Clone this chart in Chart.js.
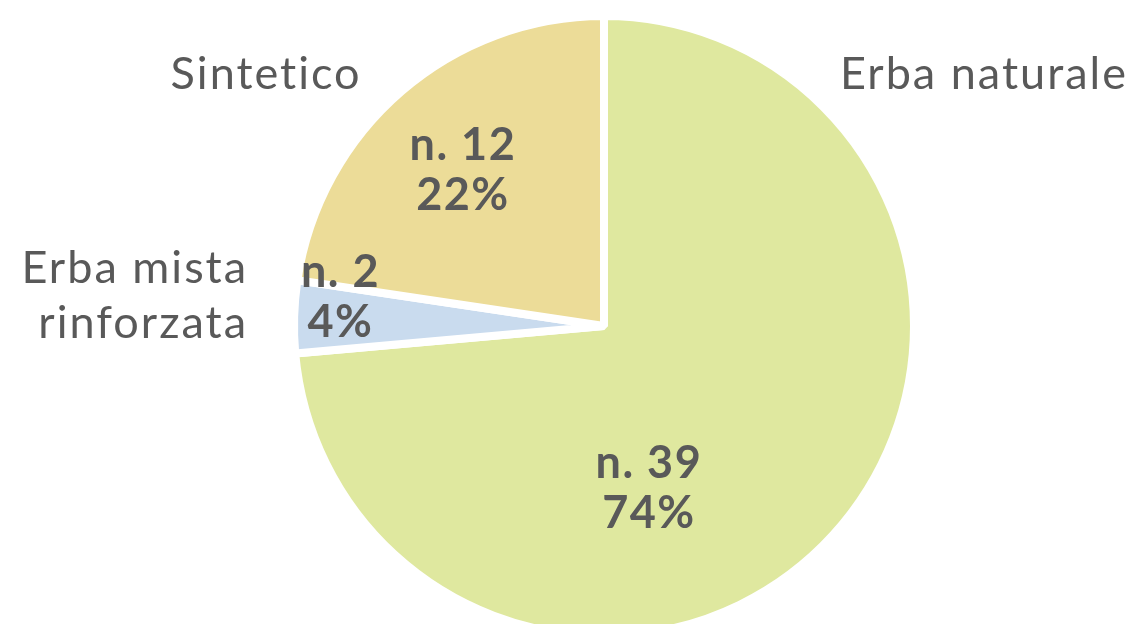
<!DOCTYPE html>
<html>
<head>
<meta charset="utf-8">
<script src="https://cdn.jsdelivr.net/npm/chart.js@4.4.1/dist/chart.umd.min.js"></script>
<style>
  html, body { margin: 0; padding: 0; background: #fff; overflow: hidden; }
  #wrap { width: 1135px; height: 624px; position: relative; }
</style>
</head>
<body>
<div id="wrap"><canvas id="pie"></canvas></div>
<script>
// dati
const categories = ['Erba naturale', 'Erba mista\nrinforzata', 'Sintetico'];
const counts = [39, 2, 12];
const percents = ['74%', '4%', '22%'];
const colors = ['#dfe89f', '#c9dbee', '#ecdc98'];

const TEXT = '#595959';
const FONT = 'Lato, "Open Sans", sans-serif';

// posizione etichette, in frazioni di raggio rispetto al centro
const labelPos = {
  inner: [[0.145, 0.523], [-0.85, -0.093], [-0.455, -0.503]],
  outer: [[1.69, -0.81, 'right'], [-1.148, -0.098, 'right'], [-1.09, -0.81, 'center']]
};

const labelsPlugin = {
  id: 'pieLabels',
  afterDatasetsDraw(chart) {
    const ctx = chart.ctx;
    const arcs = chart.getDatasetMeta(0).data;
    ctx.save();
    ctx.fillStyle = TEXT;
    ctx.textBaseline = 'middle';
    arcs.forEach((arc, i) => {
      const r = arc.outerRadius;
      // interno: numero e percentuale
      let p = labelPos.inner[i];
      ctx.font = 'bold 45px ' + FONT;
      ctx.letterSpacing = '1.5px';
      ctx.textAlign = 'center';
      ctx.fillText('n. ' + counts[i], arc.x + p[0] * r, arc.y + p[1] * r - 25);
      ctx.fillText(percents[i], arc.x + p[0] * r, arc.y + p[1] * r + 25);
      // esterno: nome categoria
      p = labelPos.outer[i];
      ctx.font = '45px ' + FONT;
      ctx.letterSpacing = '2px';
      ctx.textAlign = p[2];
      const lines = categories[i].split('\n');
      const lh = 55;
      const y0 = arc.y + p[1] * r - (lines.length - 1) * lh / 2;
      lines.forEach((t, k) => ctx.fillText(t, arc.x + p[0] * r, y0 + k * lh));
    });
    ctx.restore();
  }
};

new Chart(document.getElementById('pie'), {
  type: 'pie',
  data: {
    labels: categories,
    datasets: [{
      data: counts,
      backgroundColor: colors,
      borderColor: '#ffffff',
      borderWidth: 8,
      clip: false
    }]
  },
  options: {
    responsive: true,
    maintainAspectRatio: false,
    animation: false,
    radius: 310,
    layout: { padding: { left: 73, top: 28, right: 0, bottom: 0 } },
    plugins: {
      legend: { display: false },
      tooltip: { enabled: false }
    }
  },
  plugins: [labelsPlugin]
});
</script>
</body>
</html>
